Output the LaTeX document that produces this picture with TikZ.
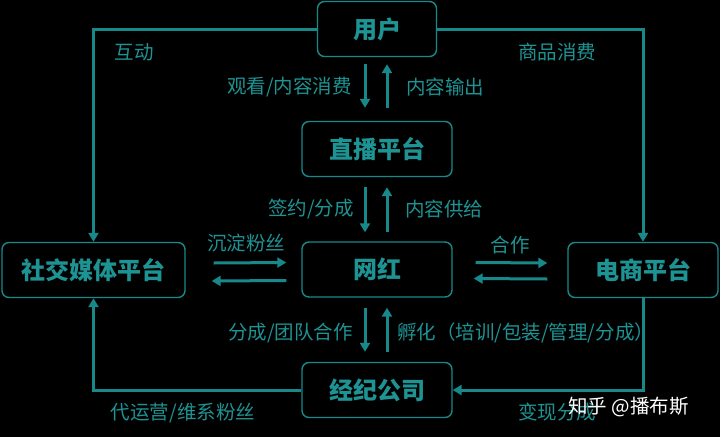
\documentclass[tikz,border=0pt]{standalone}
\usepackage{fontspec}
\setmainfont{Noto Sans CJK SC}
\usetikzlibrary{arrows.meta}
\definecolor{teal1}{HTML}{17898A}
\definecolor{tealtxt}{HTML}{1E9393}
\tikzset{
  box/.style={draw=teal1, line width=1.4pt, rounded corners=7pt, minimum width=150pt, minimum height=55pt, text=tealtxt, font=\fontsize{24}{26}\selectfont\bfseries, inner sep=0pt},
  lbl/.style={text=tealtxt, font=\fontsize{19.5}{21}\selectfont, inner sep=0pt},
  conn/.style={draw=teal1, line width=3pt, -{Triangle[width=10pt,length=9pt]}},
  wm/.style={text=white, font=\fontsize{19.5}{21}\selectfont, inner sep=0pt}
}
\begin{document}
\begin{tikzpicture}[x=1pt,y=-1pt]
\fill[black] (0,0) rectangle (720,437);
\useasboundingbox (0,0) rectangle (720,437);
% boxes
\node[box, minimum width=119pt] (yh) at (377,29) {用户};
\node[box] (zb) at (377,149) {直播平台};
\node[box] (wh) at (377,269.5) {网红};
\node[box] (jj) at (377,390) {经纪公司};
\node[box, minimum width=183pt] (sj) at (93.5,270) {社交媒体平台};
\node[box] (ds) at (643,270) {电商平台};
% outer connectors
\draw[conn] (yh.west) -| (sj.north);
\draw[conn] (yh.east) -| (ds.north);
\draw[conn] (jj.west) -| (sj.south);
\draw[conn] (ds.south) |- (jj.east);
% vertical pairs
\draw[conn] ([xshift=-12pt,yshift=-7pt]yh.south) -- ([xshift=-12pt,yshift=13pt]zb.north);
\draw[conn] ([xshift=10pt,yshift=13pt]zb.north) -- ([xshift=10pt,yshift=-7pt]yh.south);
\draw[conn] ([xshift=-12pt,yshift=-10pt]zb.south) -- ([xshift=-12pt,yshift=9pt]wh.north);
\draw[conn] ([xshift=10pt,yshift=9pt]wh.north) -- ([xshift=10pt,yshift=-10pt]zb.south);
\draw[conn] ([xshift=-12pt,yshift=-10pt]wh.south) -- ([xshift=-12pt,yshift=10pt]jj.north);
\draw[conn] ([xshift=10pt,yshift=10pt]jj.north) -- ([xshift=10pt,yshift=-10pt]wh.south);
% horizontal pairs
\draw[conn] ([xshift=28pt,yshift=7pt]sj.east) -- ([xshift=-15pt,yshift=7pt]wh.west);
\draw[conn] ([xshift=-15pt,yshift=-11pt]wh.west) -- ([xshift=26pt,yshift=-11pt]sj.east);
\draw[conn] ([xshift=23pt,yshift=7pt]wh.east) -- ([xshift=-20pt,yshift=7pt]ds.west);
\draw[conn] ([xshift=-20pt,yshift=-9pt]ds.west) -- ([xshift=21pt,yshift=-9pt]wh.east);
% labels
\node[lbl] (l1) at (134,52) {互动};
\node[lbl] (l2) at (557,52) {商品消费};
\node[lbl, anchor=east] (l3) at (352,87) {观看/内容消费};
\node[lbl, anchor=west] (l4) at (406,87) {内容输出};
\node[lbl, anchor=east] (l5) at (354,209) {签约/分成};
\node[lbl, anchor=west] (l6) at (405,209) {内容供给};
\node[lbl] (l7) at (246,243) {沉淀粉丝};
\node[lbl] (l8) at (510,245) {合作};
\node[lbl, anchor=east] (l9) at (353,333) {分成/团队合作};
\node[lbl, anchor=west] (l10) at (397,333) {孵化（培训/包装/管理/分成）};
\node[lbl] (l11) at (183,413) {代运营/维系粉丝};
\node[lbl] (l12) at (557,412) {变现分成};
\node[wm, anchor=west] (w) at (568,407) {知乎 @播布斯};
\end{tikzpicture}
\end{document}
